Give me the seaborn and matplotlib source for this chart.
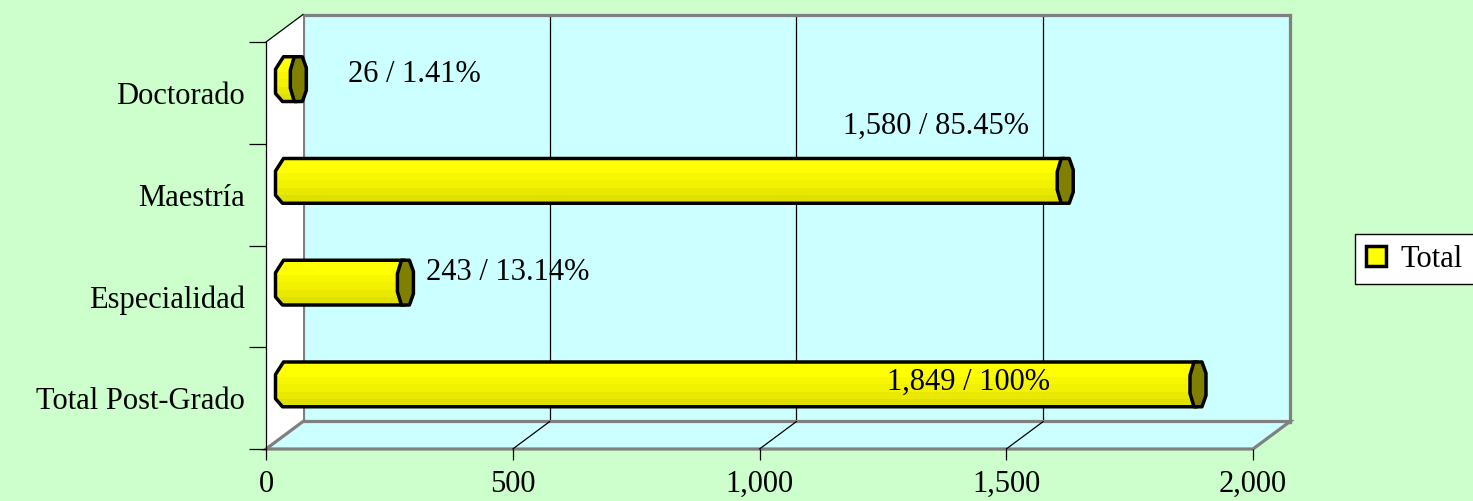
import numpy as np
import pandas as pd
import matplotlib
matplotlib.use('Agg')
import matplotlib.pyplot as plt
import seaborn as sns
from matplotlib.patches import Polygon, Patch
from matplotlib.lines import Line2D
from matplotlib.transforms import IdentityTransform

# data
categories = ['Doctorado', 'Maestría', 'Especialidad', 'Total Post-Grado']
values = [26, 1580, 243, 1849]
labels = ['26 / 1.41%', '1,580 / 85.45%', '243 / 13.14%', '1,849 / 100%']
x_ticks = [0, 500, 1000, 1500, 2000]

# label placement (pixels from bar end / centre) -- layout only
label_offsets = [(51, 5, 'left'), (-35, 55, 'right'), (22, 10, 'left'), (-147, 2, 'right')]

W, H = 1473, 501
sns.set_style('white')
plt.rcParams['font.family'] = ['Liberation Serif', 'DejaVu Serif']
plt.rcParams['text.color'] = 'black'

BG = '#CCFFCC'
WALL = '#CCFFFF'
GRAY = '#808080'
YELLOW = '#FFFF00'
FS = 22

fig = plt.figure(figsize=(W / 100, H / 100), dpi=100)
fig.patch.set_facecolor(BG)


def rect(l, t, r, b):
    return [l / W, 1 - b / H, (r - l) / W, (b - t) / H]


def fpt(x, y):
    return (x / W, 1 - y / H)


# front plane of the 3d box and depth offset (pixels)
L, T, R, B = 266, 42, 1253, 449
DX, DY = 37, 27.5
XMAX = x_ticks[-1]
px = XMAX / (R - L)  # data units per pixel

# back wall
ax_back = fig.add_axes(rect(L + DX, T - DY, R + DX, B - DY))
ax_back.set_facecolor(WALL)
ax_back.set_xlim(0, XMAX)
ax_back.set_xticks(x_ticks[1:-1])
ax_back.set_yticks([])
ax_back.tick_params(bottom=False, labelbottom=False)
ax_back.grid(axis='x', color='black', linewidth=0.9)
for s in ax_back.spines.values():
    s.set_color(GRAY)
    s.set_linewidth(2.3)
ax_back.set_zorder(0)

# left wall and floor
left_wall = Polygon([fpt(L, T), fpt(L + DX, T - DY), fpt(L + DX, B - DY), fpt(L, B)],
                    closed=True, transform=fig.transFigure, facecolor='white',
                    edgecolor='none', zorder=0.5)
fig.add_artist(left_wall)
floor = Polygon([fpt(L, B), fpt(L + DX, B - DY), fpt(R + DX, B - DY), fpt(R, B)],
                closed=True, transform=fig.transFigure, facecolor=WALL,
                edgecolor=GRAY, linewidth=2.3, zorder=0.6)
fig.add_artist(floor)
fig.add_artist(Line2D(*zip(fpt(L, T), fpt(L + DX, T - DY)), transform=fig.transFigure,
                      color='black', linewidth=0.9, zorder=0.7))

# front axes: value axis and category labels
ax_front = fig.add_axes(rect(L, T, R, B))
ax_front.set_facecolor('none')
ax_front.set_zorder(1)
ax_front.set_xlim(0, XMAX)
ax_front.set_ylim(len(categories) - 0.5, -0.5)
ax_front.set_xticks(x_ticks)
ax_front.set_xticklabels([f'{v:,}' for v in x_ticks], fontsize=FS)
ax_front.tick_params(axis='x', bottom=True, direction='out', length=8, width=0.9,
                     color='black', labelcolor='black', pad=7)
ax_front.set_yticks(np.arange(len(categories) + 1) - 0.5)
ax_front.set_yticklabels([])
ax_front.set_yticks(np.arange(len(categories)), minor=True)
ax_front.set_yticklabels(categories, minor=True, fontsize=FS)
ax_front.tick_params(axis='y', which='major', left=True, direction='out', length=12,
                     width=0.9, color='black')
ax_front.tick_params(axis='y', which='minor', left=True, length=0, pad=15,
                     labelcolor='black')
for s in ['top', 'right', 'bottom']:
    ax_front.spines[s].set_visible(False)
ax_front.spines['left'].set_color('black')
ax_front.spines['left'].set_linewidth(0.9)

# floor grid lines from back wall to front axis
for v in x_ticks[1:-1]:
    xb = ax_back.transData.transform((v, 0))[0]
    yb = ax_back.transAxes.transform((0, 0))[1]
    xf = ax_front.transData.transform((v, 0))[0]
    yf = ax_front.transAxes.transform((0, 0))[1]
    fig.add_artist(Line2D([xb, xf], [yb, yf], transform=IdentityTransform(),
                          color='black', linewidth=0.9, zorder=0.8))

# bars sit halfway into the box; a little extra room on the left for the bevel
PAD = 12
ax_bar = fig.add_axes(rect(L + DX / 2 - PAD, T - DY / 2, R + DX / 2, B - DY / 2))
ax_bar.set_zorder(2)
df = pd.DataFrame({'category': categories, 'value': values})
sns.barplot(data=df, x='value', y='category', orient='h', width=0.44, color=YELLOW,
            saturation=1, edgecolor='black', linewidth=2.5, ax=ax_bar)

shade = np.array([[1, 1, 0], [1, 1, 0], [0.97, 0.97, 0], [0.95, 0.95, 0],
                  [0.91, 0.91, 0], [0.88, 0.88, 0]]).reshape(-1, 1, 3)
for p, lab, (ox, oy, ha) in zip(ax_bar.patches, labels, label_offsets):
    x0, y0, w, h = p.get_x(), p.get_y(), p.get_width(), p.get_height()
    xe = x0 + w
    p.set_visible(False)
    # bevelled body outline built around the seaborn bar
    body = Polygon([(x0 - 1 * px, y0), (x0 - 9 * px, y0 + 0.28 * h),
                    (x0 - 9 * px, y0 + 0.82 * h), (x0 - 2 * px, y0 + h),
                    (xe, y0 + h), (xe, y0)],
                   closed=True, facecolor='none', edgecolor='black', linewidth=2.5,
                   joinstyle='round', zorder=2, clip_on=False)
    ax_bar.add_patch(body)
    img = ax_bar.imshow(shade, extent=(x0 - 10 * px, xe, y0 + h, y0), aspect='auto',
                        zorder=1, interpolation='nearest')
    img.set_clip_path(body)
    cap = Polygon([(xe - 3 * px, y0), (xe - 7 * px, y0 + 0.3 * h), (xe - 7 * px, y0 + 0.7 * h),
                   (xe - 3 * px, y0 + h), (xe + 5 * px, y0 + h), (xe + 9 * px, y0 + 0.75 * h),
                   (xe + 9 * px, y0 + 0.25 * h), (xe + 5 * px, y0)],
                  closed=True, facecolor='#808000', edgecolor='black', linewidth=2.5,
                  joinstyle='round', zorder=3, clip_on=False)
    ax_bar.add_patch(cap)
    ax_bar.annotate(lab, xy=(xe, y0 + h / 2), xytext=(ox, oy), textcoords='offset pixels',
                    ha=ha, va='center', fontsize=FS, color='black', zorder=4)

ax_bar.set_xlim(-PAD * px, XMAX)
ax_bar.set_ylim(len(categories) - 0.5, -0.5)
ax_bar.set_facecolor('none')
ax_bar.axis('off')

# legend
fig.legend(handles=[Patch(facecolor=YELLOW, edgecolor='black', linewidth=2.5, label='Total')],
           loc='upper left', bbox_to_anchor=(1355 / W, 1 - 234 / H), borderaxespad=0,
           fontsize=FS, frameon=True, fancybox=False, framealpha=1, edgecolor='black',
           handlelength=0.65, handleheight=0.65, borderpad=0.35, handletextpad=0.5)

fig.savefig('out.png', dpi=100, facecolor=BG)
